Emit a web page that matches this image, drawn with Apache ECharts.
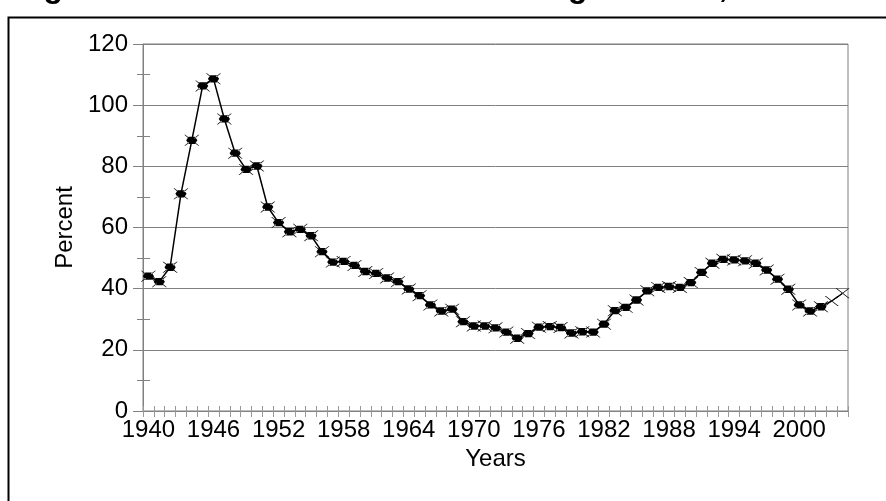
<!DOCTYPE html>
<html>
<head>
<meta charset="utf-8">
<script src="https://cdn.jsdelivr.net/npm/echarts@6/dist/echarts.min.js"></script>
<style>
  html, body { margin: 0; padding: 0; background: #fff; }
  #chart { width: 886px; height: 501px; }
</style>
</head>
<body>
<div id="chart"></div>
<script>
// categories
const years = [
  '1940', '1941', '1942', '1943', '1944', '1945', '1946', '1947', '1948', '1949',
  '1950', '1951', '1952', '1953', '1954', '1955', '1956', '1957', '1958', '1959',
  '1960', '1961', '1962', '1963', '1964', '1965', '1966', '1967', '1968', '1969',
  '1970', '1971', '1972', '1973', '1974', '1975', '1976', '1977', '1978', '1979',
  '1980', '1981', '1982', '1983', '1984', '1985', '1986', '1987', '1988', '1989',
  '1990', '1991', '1992', '1993', '1994', '1995', '1996', '1997', '1998', '1999',
  '2000', '2001', '2002', '2003', '2004'
]
// debt as percent of GDP, 1940-2002
const actual = [
  44.1, 42.3, 47.0, 71.0, 88.5, 106.3, 108.6, 95.5, 84.3, 79.0,
  80.1, 66.7, 61.6, 58.6, 59.4, 57.3, 52.1, 48.7, 48.9, 47.6,
  45.6, 45.0, 43.5, 42.3, 39.9, 37.7, 34.7, 32.7, 33.3, 29.2,
  27.8, 27.8, 27.2, 25.8, 23.8, 25.3, 27.4, 27.6, 27.3, 25.5,
  25.9, 25.8, 28.4, 32.8, 33.9, 36.3, 39.3, 40.4, 40.7, 40.4,
  42.0, 45.3, 48.3, 49.6, 49.4, 49.1, 48.3, 46.1, 43.1, 39.8,
  34.7, 32.7, 34.1
]
// 2003-2004 estimates
const estimate = [36.0, 38.5]
const titleText = 'Figure 1: Federal Debt as a Percentage of GDP, 1940-2004'

const font = 'Liberation Sans, Arial, sans-serif'
const gray = '#808080'
const blob = 'path://M3 9 L7 3 L17 3 L21 9 L17 15 L7 15 Z M0 0 L1.5 0 L8 5 L7 6 Z M24 0 L22.5 0 L16 5 L17 6 Z M0 18 L1.5 18 L8 13 L7 12 Z M24 18 L22.5 18 L16 13 L17 12 Z'
const cross = 'path://M0 0 L2 0 L24 18 L22 18 Z M24 0 L22 0 L0 18 L2 18 Z'

const actualData = years.map((y, i) => (i < actual.length ? actual[i] : null))
const estData = years.map((y, i) => {
  if (i === actual.length - 1) return { value: actual[i], symbol: 'none' }
  if (i >= actual.length) return estimate[i - actual.length]
  return null
})

const chart = echarts.init(document.getElementById('chart'))
chart.setOption({
  backgroundColor: '#fff',
  animation: false,
  textStyle: { fontFamily: font },
  graphic: [
    {
      type: 'rect',
      shape: { x: 8.5, y: 17.5, width: 1000, height: 1000 },
      style: { fill: 'none', stroke: '#000', lineWidth: 2 },
      silent: true
    },
    {
      type: 'text',
      x: 15,
      y: 4,
      style: {
        text: titleText,
        font: 'bold 32px ' + font,
        fill: '#000',
        verticalAlign: 'bottom'
      },
      silent: true
    }
  ],
  grid: {
    left: 143,
    right: 38,
    top: 44,
    bottom: 90,
    show: true,
    borderColor: gray,
    borderWidth: 1
  },
  xAxis: [
    {
      type: 'category',
      data: years,
      boundaryGap: true,
      name: 'Years',
      nameLocation: 'middle',
      nameGap: 36,
      nameTextStyle: { fontSize: 24, color: '#000', fontFamily: font },
      axisLine: { lineStyle: { color: gray, width: 1 } },
      axisTick: { show: true, interval: 0, length: 6, lineStyle: { color: '#999' } },
      axisLabel: { interval: 5, fontSize: 24, color: '#000', margin: 7, fontFamily: font }
    },
    {
      type: 'category',
      data: years,
      boundaryGap: true,
      position: 'bottom',
      axisLine: { show: false },
      axisTick: { show: true, inside: true, interval: 0, length: 5, lineStyle: { color: '#999' } },
      axisLabel: { show: false }
    }
  ],
  yAxis: [
    {
      type: 'value',
      min: 0,
      max: 120,
      interval: 20,
      name: 'Percent',
      nameLocation: 'middle',
      nameGap: 64,
      nameTextStyle: { fontSize: 24, color: '#000', fontFamily: font },
      axisLine: { show: true, lineStyle: { color: gray, width: 1 } },
      axisTick: { show: true, length: 10, lineStyle: { color: gray } },
      minorTick: { show: true, splitNumber: 2, length: 6, lineStyle: { color: gray } },
      axisLabel: { fontSize: 24, color: '#000', margin: 15, fontFamily: font },
      splitLine: { show: true, lineStyle: { color: gray, width: 1 } }
    },
    {
      type: 'value',
      min: 0,
      max: 120,
      interval: 10,
      position: 'left',
      axisLine: { show: false },
      axisTick: { show: true, inside: true, length: 7, lineStyle: { color: gray } },
      axisLabel: { show: false },
      splitLine: { show: false }
    }
  ],
  series: [
    {
      name: 'Actual',
      type: 'line',
      data: actualData,
      symbol: blob,
      symbolSize: [15, 11],
      showAllSymbol: true,
      itemStyle: { color: '#000' },
      lineStyle: { color: '#000', width: 1.5 },
      z: 3
    },
    {
      name: 'Estimate',
      type: 'line',
      data: estData,
      symbol: cross,
      symbolSize: [14, 10],
      showAllSymbol: true,
      itemStyle: { color: '#000' },
      lineStyle: { color: '#000', width: 1.2 },
      z: 2
    }
  ]
})
</script>
</body>
</html>
